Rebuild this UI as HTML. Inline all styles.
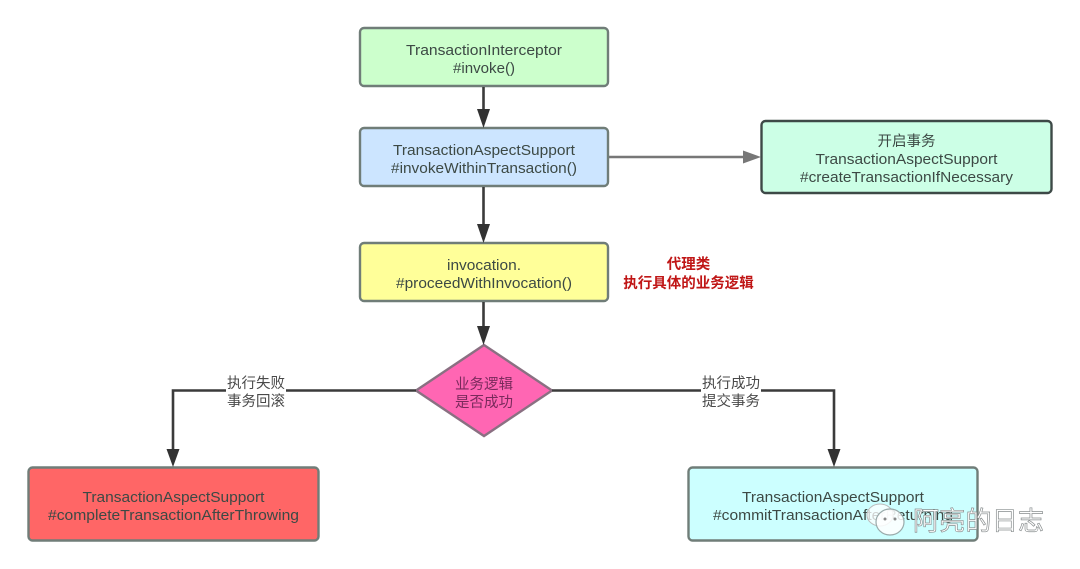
<!DOCTYPE html>
<html><head><meta charset="utf-8"><style>
html,body{margin:0;padding:0;background:#fff}
svg{display:block}
text{font-family:"Liberation Sans","Noto Sans CJK SC",sans-serif;font-size:14.5px;fill:#3c4a44;text-anchor:middle}
.c{font-size:14px}
</style></head><body>
<svg width="1080" height="569" viewBox="0 0 1080 569" xmlns="http://www.w3.org/2000/svg">
<defs><filter id="b" x="-5%" y="-5%" width="110%" height="110%"><feGaussianBlur stdDeviation="0.35"/></filter></defs>
<g filter="url(#b)">
<g stroke="#6f7d78" stroke-width="2.4">
<rect x="360" y="28" width="248" height="58" rx="4" fill="#ccffcc"/>
<rect x="360" y="128" width="248" height="58" rx="4" fill="#cce5ff"/>
<rect x="360" y="243" width="248" height="58" rx="4" fill="#ffff99"/>
<rect x="28.500" y="467.500" width="290" height="73" rx="4" fill="#ff6666"/>
<rect x="688.500" y="467.500" width="289" height="73" rx="4" fill="#ccffff"/>
<rect x="761.500" y="121" width="290" height="72" rx="4" fill="#ccffe6" stroke="#3c4a46"/>
<polygon points="484,345 552,390.500 484,436 416,390.500" fill="#ff66b3" stroke="#8a6f82"/>
</g>
<g fill="none" stroke="#3a3a3a" stroke-width="2.600">
<path d="M483.500 87V110"/>
<path d="M483.500 187V226"/>
<path d="M483.500 302V328"/>
<path d="M416 390.500H173V450"/>
<path d="M552 390.500H834V450"/>
</g>
<path d="M609 157H745" stroke="#777" stroke-width="2.600" fill="none"/>
<g fill="#333">
<polygon points="477,109 490,109 483.500,128"/>
<polygon points="477,224 490,224 483.500,243"/>
<polygon points="477,326 490,326 483.500,345"/>
<polygon points="166.500,449 179.500,449 173,467"/>
<polygon points="827.500,449 840.500,449 834,467"/>
</g>
<polygon points="743,150.500 743,163.500 761,157" fill="#777"/>
<rect x="226" y="380" width="60" height="22" fill="#fff"/>
<rect x="701" y="380" width="60" height="22" fill="#fff"/>
<text x="484" y="55" textLength="156" lengthAdjust="spacingAndGlyphs">TransactionInterceptor</text>
<text x="484" y="73" textLength="62" lengthAdjust="spacingAndGlyphs">#invoke()</text>
<text x="484" y="155" textLength="182" lengthAdjust="spacingAndGlyphs">TransactionAspectSupport</text>
<text x="484" y="173" textLength="186" lengthAdjust="spacingAndGlyphs">#invokeWithinTransaction()</text>
<text x="484" y="270" textLength="74" lengthAdjust="spacingAndGlyphs">invocation.</text>
<text x="484" y="288" textLength="176" lengthAdjust="spacingAndGlyphs">#proceedWithInvocation()</text>
<text x="906.500" y="146">开启事务</text>
<text x="906.500" y="164" textLength="182" lengthAdjust="spacingAndGlyphs">TransactionAspectSupport</text>
<text x="906.500" y="182" textLength="213" lengthAdjust="spacingAndGlyphs">#createTransactionIfNecessary</text>
<text x="173.500" y="502" textLength="182" lengthAdjust="spacingAndGlyphs">TransactionAspectSupport</text>
<text x="173.500" y="520" textLength="251" lengthAdjust="spacingAndGlyphs">#completeTransactionAfterThrowing</text>
<text x="833" y="502" textLength="182" lengthAdjust="spacingAndGlyphs">TransactionAspectSupport</text>
<text x="833" y="520" textLength="240" lengthAdjust="spacingAndGlyphs">#commitTransactionAfterReturning</text>
<text x="484" y="389" style="fill:#7a2a5c">业务逻辑</text>
<text x="484" y="407" style="fill:#7a2a5c">是否成功</text>
<text x="256" y="388" style="fill:#4a4a4a">执行失败</text>
<text x="256" y="406" style="fill:#4a4a4a">事务回滚</text>
<text x="731" y="388" style="fill:#4a4a4a">执行成功</text>
<text x="731" y="406" style="fill:#4a4a4a">提交事务</text>
<text x="688.500" y="269" style="fill:#c01818;font-weight:bold;font-size:14.500px">代理类</text>
<text x="688.500" y="288" style="fill:#c01818;font-weight:bold;font-size:14.500px">执行具体的业务逻辑</text>
</g>
<g>
<ellipse cx="880" cy="515" rx="13" ry="11" fill="#fff" fill-opacity=".75" stroke="#bbb" stroke-width="1"/>
<ellipse cx="890" cy="522" rx="14" ry="13" fill="#fff" fill-opacity=".85" stroke="#9aa" stroke-width="1.200"/>
<circle cx="885" cy="519" r="1.500" fill="#888"/><circle cx="895" cy="519" r="1.500" fill="#888"/>
<text x="978.500" y="530" style="font-size:26px;fill:#fff;stroke:#8a8f90;stroke-width:.7px;font-family:'Noto Sans CJK SC',sans-serif" textLength="131">阿亮的日志</text>
</g>
</svg>
</body></html>
